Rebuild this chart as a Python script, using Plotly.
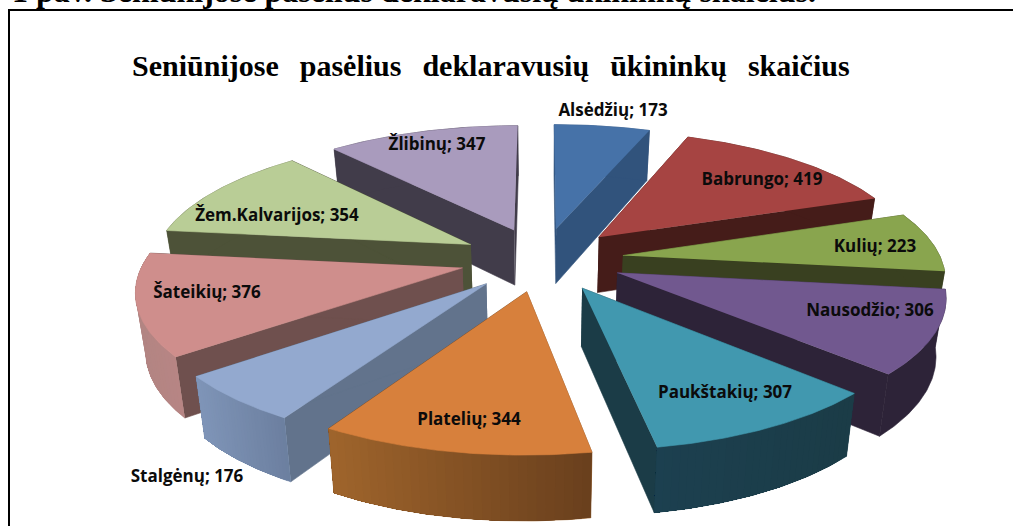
import numpy as np
import plotly.graph_objects as go

CATEGORIES = ["Alsėdžių", "Babrungo", "Kulių", "Nausodžio", "Paukštakių",
              "Platelių", "Stalgėnų", "Šateikių", "Žem.Kalvarijos", "Žlibinų"]
VALUES = [173, 419, 223, 306, 307, 344, 176, 376, 354, 347]

TOP_COLORS = ["#4672A8", "#A64442", "#89A54E", "#71588F", "#4198AF",
              "#D7803C", "#93A9CF", "#CF8E8C", "#B9CD96", "#A99BBD"]
SIDE_COLORS = ["#31537C", "#451C19", "#394020", "#2D2338", "#1B3C47",
               "#7A4A22", "#62738C", "#6F504E", "#4D5238", "#413C4A"]
ARC_LEFT = ["#31537C", "#451C19", "#394020", "#2D2338", "#1C4050",
            "#A0652C", "#7F95B8", "#B28583", "#4D5238", "#413C4A"]
ARC_RIGHT = ["#31537C", "#451C19", "#394020", "#2D2338", "#1B3C47",
             "#6A401D", "#6B7E9E", "#B88584", "#4D5238", "#413C4A"]

LABEL_X = [613, 762, 875, 870, 725, 469, 187, 207, 277, 437]
LABEL_Y = [112, 181, 248, 312, 394, 421, 478, 294, 217, 146]

TITLE = "Seniūnijose pasėlius deklaravusių ūkininkų skaičius"
CAPTION = "1 pav. Seniūnijose pasėlius deklaravusių ūkininkų skaičius."

# projection of the pie plane onto the page
CX, CY, RX, RY, PERSPECTIVE = 542.0, 259.0, 318.0, 128.0, 0.15
EXPLODE_U, EXPLODE_V = 0.257, 0.25


def project(u, v):
    den = 1 + PERSPECTIVE * v
    return CX + RX * u / den, CY - RY * v / den


def drop(x, y):
    return CX + (x - CX) * 0.975, y + 44 + 0.048 * y


def hex_rgb(c):
    return np.array([int(c[i:i + 2], 16) for i in (1, 3, 5)], dtype=float)


def mix(a, b, t):
    r = hex_rgb(a) * (1 - t) + hex_rgb(b) * t
    return "rgb(%d,%d,%d)" % tuple(r.round())


def poly(x, y, color, width=0.6):
    return go.Scatter(x=list(x), y=list(y), mode="lines", fill="toself",
                      fillcolor=color, line=dict(color=color, width=width),
                      hoverinfo="skip", showlegend=False)


vals = np.array(VALUES, dtype=float)
edges = np.concatenate([[0], np.cumsum(vals)]) / vals.sum() * 2 * np.pi
mids = (edges[:-1] + edges[1:]) / 2

fig = go.Figure()
for i in np.argsort(-np.cos(mids)):
    a0, a1, m = edges[i], edges[i + 1], mids[i]
    ou, ov = EXPLODE_U * np.sin(m), EXPLODE_V * np.cos(m)
    t = np.linspace(a0, a1, 61)
    xr, yr = project(ou + np.sin(t), ov + np.cos(t))
    xt, yt = project(ou, ov)
    xrb, yrb = drop(xr, yr)
    xtb, ytb = drop(xt, yt)
    # radial side faces
    fig.add_trace(poly([xt, xr[0], xrb[0], xtb], [yt, yr[0], yrb[0], ytb], SIDE_COLORS[i]))
    fig.add_trace(poly([xt, xr[-1], xrb[-1], xtb], [yt, yr[-1], yrb[-1], ytb], SIDE_COLORS[i]))
    # outer rim wall: first the whole wall, then overlapping bands from one end
    fig.add_trace(poly(np.r_[xr, xrb[::-1]], np.r_[yr, yrb[::-1]], ARC_LEFT[i]))
    if ARC_LEFT[i] != ARC_RIGHT[i]:
        lo, hi = min(xr.min(), xrb.min()), max(xr.max(), xrb.max())
        for j in range(0, 60, 2):
            f = (xr[j] - lo) / (hi - lo)
            fig.add_trace(poly(np.r_[xr[j:], xrb[j:][::-1]], np.r_[yr[j:], yrb[j:][::-1]],
                               mix(ARC_LEFT[i], ARC_RIGHT[i], f), width=0))
    # top surface
    fig.add_trace(poly(np.r_[xt, xr], np.r_[yt, yr], TOP_COLORS[i]))

fig.add_trace(go.Scatter(
    x=LABEL_X, y=LABEL_Y, mode="text",
    text=[f"{c}; {v}" for c, v in zip(CATEGORIES, VALUES)],
    textposition="middle center",
    textfont=dict(family="Open Sans", size=17, color="#0b0b0b", weight="bold"),
    hoverinfo="skip", showlegend=False, cliponaxis=False))

fig.add_annotation(x=491, y=65, text="<b>" + TITLE.replace(" ", "\u00a0\u00a0\u2009") + "</b>", showarrow=False,
                   font=dict(family="Liberation Serif", size=30, color="#000000"))
fig.add_annotation(xref="paper", yref="paper", x=10 / 1013, y=1, xanchor="left", yanchor="top", yshift=29,
                   text="<b>" + CAPTION + "</b>", showarrow=False,
                   font=dict(family="Liberation Serif", size=32, color="#000000"))
fig.add_shape(type="rect", x0=9, y0=10, x1=1040, y1=560, line=dict(color="#000000", width=2),
              fillcolor="rgba(0,0,0,0)", layer="above")

fig.update_layout(
    width=1013, height=526, margin=dict(l=0, r=0, t=0, b=0),
    paper_bgcolor="#ffffff", plot_bgcolor="#ffffff", showlegend=False,
    xaxis=dict(range=[0, 1013], visible=False, fixedrange=True),
    yaxis=dict(range=[526, 0], visible=False, fixedrange=True),
)
fig.write_html("out.html", config=dict(displayModeBar=False),
               post_script="document.body.style.margin='0';document.body.style.overflow='hidden';")
